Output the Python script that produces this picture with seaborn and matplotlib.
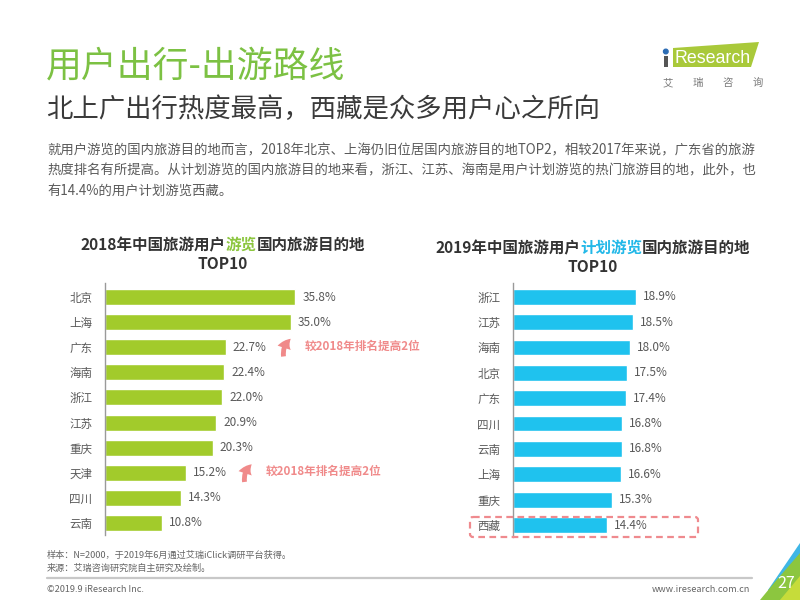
import matplotlib
matplotlib.use("Agg")
import matplotlib.pyplot as plt
import seaborn as sns
import pandas as pd
from matplotlib.patches import Polygon, FancyArrowPatch, FancyBboxPatch, Rectangle

# ---------------- data ----------------
cities_2018 = ["北京", "上海", "广东", "海南", "浙江", "江苏", "重庆", "天津", "四川", "云南"]
values_2018 = [35.8, 35.0, 22.7, 22.4, 22.0, 20.9, 20.3, 15.2, 14.3, 10.8]
cities_2019 = ["浙江", "江苏", "海南", "北京", "广东", "四川", "云南", "上海", "重庆", "西藏"]
values_2019 = [18.9, 18.5, 18.0, 17.5, 17.4, 16.8, 16.8, 16.6, 15.3, 14.4]
rank_note = "较2018年排名提高2位"
noted_cities = ["广东", "天津"]

title_main = "用户出行-出游路线"
subtitle = "北上广出行热度最高，西藏是众多用户心之所向"
para = ["就用户游览的国内旅游目的地而言，2018年北京、上海仍旧位居国内旅游目的地TOP2，相较2017年来说，广东省的旅游",
        "热度排名有所提高。从计划游览的国内旅游目的地来看，浙江、江苏、海南是用户计划游览的热门旅游目的地，此外，也",
        "有14.4%的用户计划游览西藏。"]
footer1 = "样本：N=2000，于2019年6月通过艾瑞iClick调研平台获得。"
footer2 = "来源：艾瑞咨询研究院自主研究及绘制。"

GREEN_BAR = "#a2cb2b"
BLUE_BAR = "#1fc2ee"
PINK = "#ef8a8e"
LABEL = "#595959"
DARK = "#333333"

sns.set_theme(style="white")
plt.rcParams['font.family'] = ['Noto Sans CJK SC', 'DejaVu Sans']

W, H = 800, 600
fig = plt.figure(figsize=(8, 6), dpi=100)

def px_ax(left, top, right, bottom):
    return [left / W, 1 - bottom / H, (right - left) / W, (bottom - top) / H]

# ---------------- bar charts ----------------
df18 = pd.DataFrame({"city": cities_2018, "value": values_2018})
df19 = pd.DataFrame({"city": cities_2019, "value": values_2019})

axL = fig.add_axes(px_ax(105, 283, 105 + 40 * 5.32, 535))
sns.barplot(data=df18, x="value", y="city", orient="h", color=GREEN_BAR,
            saturation=1, width=0.64, ax=axL)
axL.set_xlim(0, 40)
axL.set_ylim(9.48, -0.56)

axR = fig.add_axes(px_ax(513, 283, 513 + 28 * 6.5, 537))
sns.barplot(data=df19, x="value", y="city", orient="h", color=BLUE_BAR,
            saturation=1, width=0.62, ax=axR)
axR.set_xlim(0, 28)
axR.set_ylim(9.47, -0.54)

for ax, vals in ((axL, values_2018), (axR, values_2019)):
    ax.set_xlabel("")
    ax.set_ylabel("")
    ax.set_xticks([])
    for s in ("top", "right", "bottom"):
        ax.spines[s].set_visible(False)
    ax.spines["left"].set_color("#9a9a9a")
    ax.spines["left"].set_linewidth(1.0)
    ax.tick_params(axis="y", length=0, pad=9, labelsize=8.3, labelcolor=LABEL)
    ax.patch.set_alpha(0)
    for i, v in enumerate(vals):
        ax.annotate(f"{v:.1f}%", xy=(v, i), xytext=(5, 0), textcoords="offset points",
                    va="center", ha="left", fontsize=8.5, color=LABEL)

# ---------------- overlay in pixel coords ----------------
ov = fig.add_axes([0, 0, 1, 1], zorder=5)
ov.set_xlim(0, W)
ov.set_ylim(H, 0)
ov.axis("off")
ov.patch.set_alpha(0)

renderer = fig.canvas.get_renderer()

def text_width(s, size, weight):
    t = ov.text(0, 0, s, fontsize=size, fontweight=weight)
    w = t.get_window_extent(renderer).width
    t.remove()
    return w

def rich(x, y, pieces, size, weight="bold", center=False):
    full = "".join(s for s, _ in pieces)
    total = text_width(full, size, weight)
    x0 = x - total / 2 if center else x
    prefix = ""
    for s, c in pieces:
        prefix += s
        right = x0 + text_width(prefix, size, weight)
        ov.text(right, y, s, color=c, fontsize=size, fontweight=weight, va="center", ha="right")

# header
ov.text(46, 66, title_main, fontsize=25.8, color="#7cc143", va="center", ha="left")
ov.text(46, 109, subtitle, fontsize=19.0, color="#3a3a3a", va="center", ha="left")
for k, line in enumerate(para):
    ov.text(47, 150 + k * 20.5, line, fontsize=9.6, color="#5a5a5a", va="center", ha="left")

# chart titles
rich(223, 245, [("2018年中国旅游用户", DARK), ("游览", "#8cc63f"), ("国内旅游目的地", DARK)], 11.2, center=True)
ov.text(223, 264, "TOP10", fontsize=11.2, fontweight="bold", color=DARK, ha="center", va="center")
rich(593, 248, [("2019年中国旅游用户", DARK), ("计划游览", "#22b8e8"), ("国内旅游目的地", DARK)], 11.2, center=True)
ov.text(593, 267, "TOP10", fontsize=11.2, fontweight="bold", color=DARK, ha="center", va="center")

# rank-up notes (positioned from the bars of the noted cities)
for city, (ax_x, tx) in zip(noted_cities, ((285, 305), (246, 266))):
    i = cities_2018.index(city)
    yc = 297 + i * 25.1 - 1
    arr = FancyArrowPatch((ax_x - 1, yc + 13), (ax_x + 8, yc - 9),
                          connectionstyle="arc3,rad=-0.35",
                          arrowstyle="simple,head_length=8,head_width=10,tail_width=3.5",
                          color="#f08a8a", lw=0)
    ov.add_patch(arr)
    ov.text(tx, yc, rank_note, fontsize=8.4, fontweight="bold", color="#f08a8a",
            va="center", ha="left")

# dashed highlight box around 西藏
ov.add_patch(FancyBboxPatch((470, 517), 228, 20, boxstyle="round,pad=0,rounding_size=3",
                            fill=False, edgecolor=PINK, linestyle=(0, (3, 2)), linewidth=1.6))

# logo
ov.add_patch(Polygon([(673, 48), (759, 42), (751, 67), (673, 67)], closed=True,
                     facecolor="#a9c93a", edgecolor="none"))
ov.add_patch(Rectangle((664, 56), 3.5, 11, facecolor="#555555", edgecolor="none"))
ov.add_patch(plt.Circle((665.8, 51.5), 2.3, color="#2d6db5"))
ov.text(675, 58.5, "Research", fontsize=12.8, color="white", va="center", ha="left",
        family=["Liberation Sans", "DejaVu Sans"])
for k, ch in enumerate("艾瑞咨询"):
    ov.text(668 + k * 30, 83, ch, fontsize=7.5, color="#7a7a7a", va="center", ha="center")

# footer
ov.text(47, 555, footer1, fontsize=6.6, color="#666666", va="center", ha="left")
ov.text(47, 568, footer2, fontsize=6.6, color="#666666", va="center", ha="left")
ov.plot([47, 752], [578, 578], color="#c8c8c8", lw=1.6)
ov.text(47, 590, "©2019.9 iResearch Inc.", fontsize=6.6, color="#666666", va="center", ha="left")
ov.text(750, 590, "www.iresearch.com.cn", fontsize=6.6, color="#666666", va="center", ha="right")

# corner decoration
ov.add_patch(Polygon([(768, 590), (800, 543), (800, 600), (768, 600)], closed=True,
                     facecolor="#3fb6e6", edgecolor="none"))
ov.add_patch(Polygon([(760, 600), (774, 583), (800, 553), (800, 600)], closed=True,
                     facecolor="#8cc63f", edgecolor="none"))
ov.add_patch(Polygon([(780, 600), (800, 576), (800, 600)], closed=True,
                     facecolor="#c6dc3a", edgecolor="none"))
ov.text(786, 584, "27", fontsize=11.5, color="white", va="center", ha="center")

fig.savefig("out.png", dpi=100)
